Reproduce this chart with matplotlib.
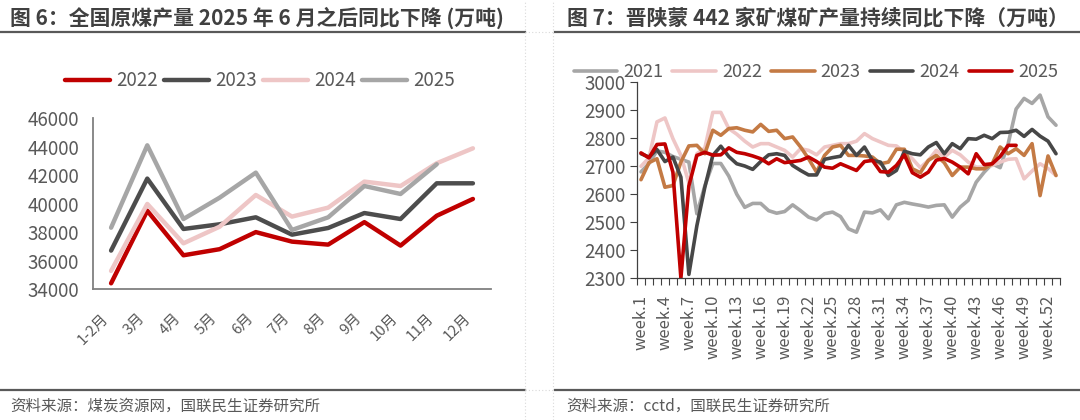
import matplotlib
matplotlib.use("Agg")
import matplotlib.pyplot as plt
from matplotlib.lines import Line2D

plt.rcParams['font.family'] = ['Noto Sans CJK SC', 'DejaVu Sans']

# ---- 图6 数据：全国原煤产量（万吨）----
months = ['1-2月', '3月', '4月', '5月', '6月', '7月', '8月', '9月', '10月', '11月', '12月']
raw_2022 = [34400, 39500, 36370, 36800, 38000, 37330, 37120, 38700, 37050, 39150, 40330]
raw_2023 = [36700, 41760, 38220, 38550, 39040, 37820, 38290, 39340, 38920, 41430, 41430]
raw_2024 = [35270, 39980, 37210, 38380, 40610, 39090, 39720, 41550, 41240, 42840, 43890]
raw_2025 = [38310, 44100, 38920, 40420, 42180, 38150, 39040, 41240, 40680, 42770]

# ---- 图7 数据：晋陕蒙442家矿产量（万吨），week.1 - week.53 ----
weeks = ['week.%d' % i for i in range(1, 54)]
w_2021 = [2680, 2710, 2755, 2750, 2735, 2725, 2715, 2530, 2630, 2710, 2710, 2665, 2600,
          2553, 2567, 2567, 2541, 2532, 2538, 2562, 2541, 2518, 2508, 2530, 2536, 2520,
          2476, 2464, 2536, 2533, 2544, 2512, 2562, 2571, 2565, 2560, 2554, 2560, 2562,
          2518, 2554, 2578, 2643, 2679, 2709, 2695, 2780, 2905, 2943, 2925, 2955, 2877, 2847]
w_2022 = [2700, 2730, 2859, 2873, 2799, 2739, 2640, 2745, 2765, 2893, 2893, 2835, 2815,
          2790, 2769, 2781, 2781, 2769, 2757, 2733, 2763, 2757, 2741, 2769, 2775, 2781,
          2781, 2790, 2817, 2799, 2787, 2775, 2773, 2751, 2727, 2695, 2721, 2757, 2733,
          2757, 2741, 2715, 2697, 2697, 2703, 2715, 2725, 2727, 2655, 2683, 2709, 2692, 2667]
w_2023 = [2652, 2713, 2727, 2625, 2631, 2715, 2773, 2775, 2745, 2829, 2811, 2835, 2838,
          2829, 2823, 2850, 2825, 2829, 2799, 2805, 2769, 2727, 2679, 2739, 2769, 2775,
          2739, 2739, 2737, 2733, 2709, 2715, 2761, 2761, 2691, 2677, 2721, 2739, 2713,
          2667, 2697, 2697, 2691, 2691, 2709, 2769, 2745, 2763, 2739, 2781, 2595, 2737, 2667]
w_2024 = [2745, 2733, 2760, 2717, 2733, 2661, 2313, 2487, 2625, 2739, 2772, 2735, 2709,
          2701, 2689, 2717, 2741, 2745, 2739, 2703, 2685, 2669, 2669, 2725, 2731, 2736,
          2775, 2739, 2769, 2721, 2715, 2667, 2685, 2754, 2745, 2741, 2769, 2785, 2745,
          2781, 2763, 2799, 2797, 2811, 2799, 2821, 2822, 2829, 2807, 2832, 2808, 2790, 2745]
w_2025 = [2748, 2730, 2778, 2780, 2679, 2300, 2630, 2739, 2750, 2740, 2741, 2766, 2750,
          2745, 2737, 2727, 2709, 2727, 2713, 2717, 2721, 2733, 2717, 2697, 2693, 2709,
          2697, 2685, 2717, 2721, 2681, 2679, 2703, 2741, 2677, 2661, 2679, 2722, 2728,
          2715, 2697, 2673, 2745, 2706, 2709, 2735, 2775, 2775]

RED = '#C00000'
DARK = '#4D4D4D'
PINK = '#EEC6C6'
GRAY = '#A6A6A6'
ORANGE = '#C47A44'
TXT = '#595959'
W, H = 1080, 420

fig = plt.figure(figsize=(10.8, 4.2), dpi=100)


def fx(px):
    return px / W


def fy(py):
    return 1 - py / H


# titles, rules and source notes
fig.text(fx(10), fy(18), '图 6：全国原煤产量 2025 年 6 月之后同比下降 (万吨)', fontsize=15,
         fontweight='bold', color='#404040', va='center', ha='left')
fig.text(fx(567), fy(18), '图 7：晋陕蒙 442 家矿煤矿产量持续同比下降（万吨）', fontsize=15,
         fontweight='bold', color='#404040', va='center', ha='left')
fig.text(fx(10), fy(406), '资料来源：煤炭资源网，国联民生证券研究所', fontsize=11.2,
         color=TXT, va='center', ha='left')
fig.text(fx(566), fy(406), '资料来源：cctd，国联民生证券研究所', fontsize=11.2,
         color=TXT, va='center', ha='left')
for x0, x1 in [(0, 525), (555, 1080)]:
    for yy in (32, 390):
        fig.add_artist(Line2D([fx(x0), fx(x1)], [fy(yy), fy(yy)], color='#595959', lw=1.6))
for xx in (525, 553):
    fig.add_artist(Line2D([fx(xx), fx(xx)], [0, 1], color='#D9D9D9', lw=0.8, ls=(0, (1, 2))))
for yy in (32, 390):
    fig.add_artist(Line2D([fx(525), fx(553)], [fy(yy), fy(yy)], color='#D9D9D9', lw=0.8, ls=(0, (1, 2))))

# ---------- left chart ----------
ax1 = fig.add_axes([fx(93), fy(289), fx(491 - 93), (289 - 118.3) / H])
lkw = dict(lw=3.2, solid_capstyle='round', solid_joinstyle='round')
ax1.plot(range(len(raw_2022)), raw_2022, color=RED, label='2022', **lkw)
ax1.plot(range(len(raw_2023)), raw_2023, color=DARK, label='2023', **lkw)
ax1.plot(range(len(raw_2024)), raw_2024, color=PINK, label='2024', **lkw)
ax1.plot(range(len(raw_2025)), raw_2025, color=GRAY, label='2025', **lkw)
ax1.set_xlim(-0.5, len(months) - 0.5)
ax1.set_ylim(34000, 46000)
ax1.set_yticks(range(34000, 46001, 2000))
ax1.set_xticks(range(len(months)))
ax1.set_xticklabels(months, rotation=45, ha='right', va='top')
ax1.tick_params(axis='y', length=0, pad=10, labelsize=13.5, labelcolor=TXT)
ax1.tick_params(axis='x', length=0, pad=16, labelsize=10.8, labelcolor=TXT)
for s in ('top', 'right'):
    ax1.spines[s].set_visible(False)
for s in ('left', 'bottom'):
    ax1.spines[s].set_color('#808080')
    ax1.spines[s].set_linewidth(1.3)
ax1.legend(loc='center', bbox_to_anchor=(fx(260), fy(81)), bbox_transform=fig.transFigure,
           ncol=4, frameon=False, fontsize=13.5, handlelength=2.4, handletextpad=0.3,
           columnspacing=0.35, labelcolor=TXT, borderaxespad=0, borderpad=0)

# ---------- right chart ----------
ax2 = fig.add_axes([fx(637), fy(278), fx(1060 - 637), (278 - 82.5) / H])
rkw = dict(lw=2.6, solid_capstyle='round', solid_joinstyle='round')
ax2.plot(range(len(w_2021)), w_2021, color=GRAY, label='2021', **rkw)
ax2.plot(range(len(w_2022)), w_2022, color=PINK, label='2022', **rkw)
ax2.plot(range(len(w_2023)), w_2023, color=ORANGE, label='2023', **rkw)
ax2.plot(range(len(w_2024)), w_2024, color='#474747', label='2024', **rkw)
ax2.plot(range(len(w_2025)), w_2025, color=RED, label='2025', **rkw)
ax2.set_xlim(-0.5, len(weeks) - 0.5)
ax2.set_ylim(2300, 3000)
ax2.set_yticks(range(2300, 3001, 100))
ax2.set_xticks([i - 0.5 for i in range(len(weeks) + 1)])
ax2.set_xticklabels([])
ax2.set_xticks(range(0, len(weeks), 3), [weeks[i] for i in range(0, len(weeks), 3)], minor=True)
ax2.tick_params(axis='x', which='major', length=5, width=0.8, color='#404040')
ax2.tick_params(axis='x', which='minor', length=0, pad=12, labelsize=12, labelcolor=TXT,
                labelrotation=90)
ax2.tick_params(axis='y', length=5, width=0.8, color='#404040', pad=3, labelsize=13.5,
                labelcolor=TXT)
for s in ('top', 'right'):
    ax2.spines[s].set_visible(False)
for s in ('left', 'bottom'):
    ax2.spines[s].set_color('#404040')
    ax2.spines[s].set_linewidth(0.9)
ax2.legend(loc='center', bbox_to_anchor=(fx(816), fy(72)), bbox_transform=fig.transFigure,
           ncol=5, frameon=False, fontsize=13, handlelength=2.4, handletextpad=0.35,
           columnspacing=0.5, labelcolor=TXT, borderaxespad=0, borderpad=0)

fig.savefig('out.png', dpi=100)
